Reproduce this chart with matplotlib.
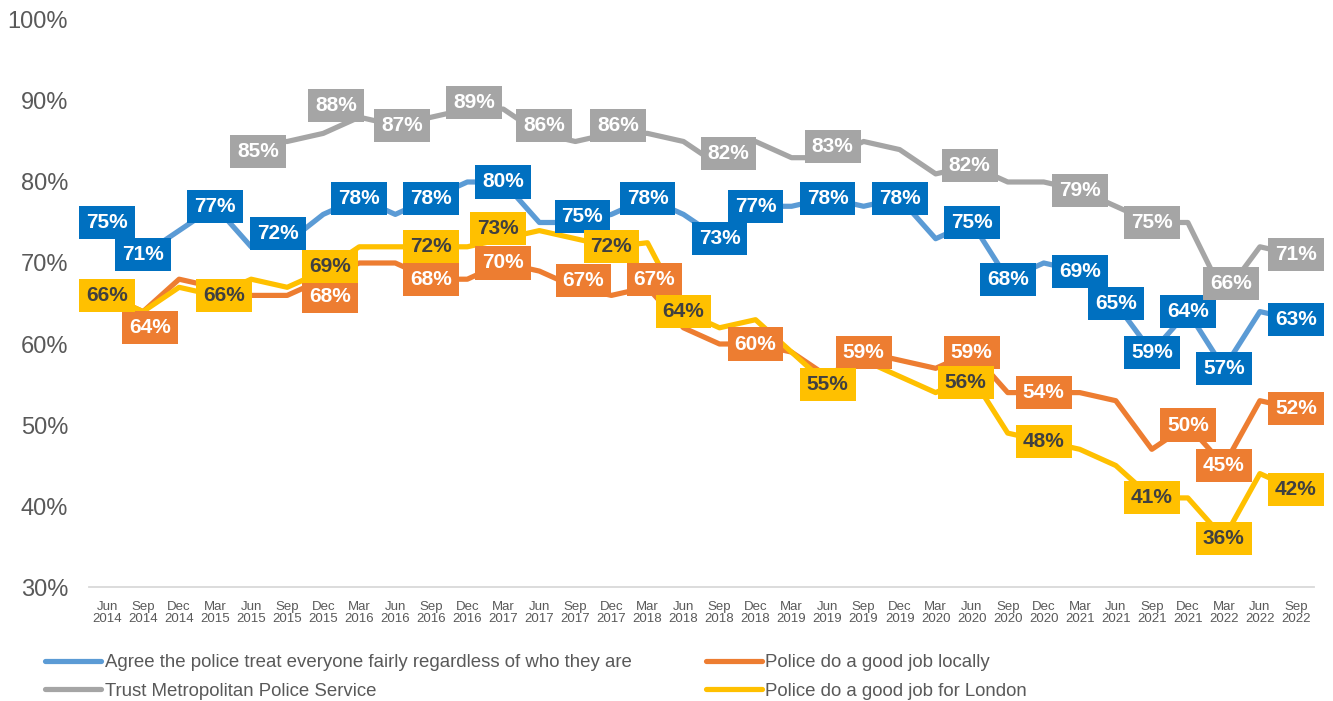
import numpy as np
import matplotlib.pyplot as plt

plt.rcParams['font.family'] = ['Liberation Sans', 'DejaVu Sans']

nan = np.nan

quarters = ["Jun\n2014", "Sep\n2014", "Dec\n2014",
            "Mar\n2015", "Jun\n2015", "Sep\n2015", "Dec\n2015",
            "Mar\n2016", "Jun\n2016", "Sep\n2016", "Dec\n2016",
            "Mar\n2017", "Jun\n2017", "Sep\n2017", "Dec\n2017",
            "Mar\n2018", "Jun\n2018", "Sep\n2018", "Dec\n2018",
            "Mar\n2019", "Jun\n2019", "Sep\n2019", "Dec\n2019",
            "Mar\n2020", "Jun\n2020", "Sep\n2020", "Dec\n2020",
            "Mar\n2021", "Jun\n2021", "Sep\n2021", "Dec\n2021",
            "Mar\n2022", "Jun\n2022", "Sep\n2022"]

fair = [75, 71, 74, 77, 72, 72.5, 76, 78, 76, 78, 80, 80, 75, 75, 76, 78, 76,
        73, 77, 77, 78, 77, 78, 73, 75, 68, 70, 69, 65, 59, 64, 57, 64, 63]
trust = [nan, nan, nan, nan, 85, 85, 86, 88, 87, 88, 89, 89, 86, 85, 86, 86, 85,
         82, 85, 83, 83, 85, 84, 81, 82, 80, 80, 79, 77, 75, 75, 66, 72, 71]
local = [66, 64, 68, 67, 66, 66, 68, 70, 70, 68, 68, 70, 69, 67, 66, 67, 62,
         60, 60, 59, 56, 59, 58, 57, 59, 54, 54, 54, 53, 47, 50, 45, 53, 52]
london = [66, 64, 67, 66, 68, 67, 69, 72, 72, 72, 72, 73, 74, 73, 72, 72.5, 64,
          62, 63, 59, 55, 58, 56, 54, 56, 49, 48, 47, 45, 41, 41, 36, 44, 42]

# which points carry a data label
fair_lab = [0, 1, 3, 4, 7, 9, 11, 13, 15, 17, 18, 20, 22, 24, 25, 27, 28, 29, 30, 31, 33]
trust_lab = [4, 7, 8, 10, 12, 14, 17, 20, 24, 27, 29, 31, 33]
local_lab = [1, 6, 9, 11, 13, 15, 18, 21, 24, 26, 30, 31, 33]
london_lab = [0, 3, 6, 9, 11, 14, 16, 20, 24, 26, 29, 31, 33]

names = ["Agree the police treat everyone fairly regardless of who they are",
         "Police do a good job locally",
         "Trust Metropolitan Police Service",
         "Police do a good job for London"]

# label nudges in pixels (right, down) where Excel moved them off the point
fair_nudge = {4: (27, -13), 13: (7, -6)}
trust_nudge = {4: (7, 10), 7: (-23, -12), 8: (7, 0), 10: (7, -7), 12: (5, -8),
               14: (7, -8), 17: (9, -12), 20: (5, -11), 24: (-2, 0), 31: (7, -12)}
local_nudge = {1: (7, 16), 6: (7, 17), 13: (8, -7), 15: (7, -8)}
london_nudge = {3: (9, 0), 6: (7, -5), 11: (-5, -10), 24: (-6, 6)}

series = [
    (fair, fair_lab, fair_nudge, "#5B9BD5", "#0070C0", "white"),
    (local, local_lab, local_nudge, "#ED7D31", "#ED7D31", "white"),
    (trust, trust_lab, trust_nudge, "#A5A5A5", "#A5A5A5", "white"),
    (london, london_lab, london_nudge, "#FFC000", "#FFC000", "#404040"),
]

fig = plt.figure(figsize=(13.33, 7.01), dpi=100)
ax = fig.add_axes([0.0668, 0.1626, 0.9189, 0.8089])

x = np.arange(len(quarters))
handles = []
for k, (vals, labs, nudge, lc, bc, tc) in enumerate(series):
    ln, = ax.plot(x, vals, color=lc, lw=3.75, solid_joinstyle='round',
                  solid_capstyle='round', zorder=2 + k, label=names[k])
    handles.append(ln)

for k, (vals, labs, nudge, lc, bc, tc) in enumerate(series):
    for i in labs:
        dx, dy = nudge.get(i, (0, 0))
        ax.annotate(f"{vals[i]:.0f}%", (x[i], vals[i]), xytext=(dx, -dy),
                    textcoords='offset pixels', ha='center', va='center',
                    fontsize=15, fontweight='bold', color=tc, zorder=10 + k,
                    bbox=dict(boxstyle='square,pad=0.34', fc=bc, ec='none'))

ax.set_xlim(-0.5, len(quarters) - 0.5)
ax.set_ylim(30, 100)
ax.set_xticks(x)
ax.set_xticklabels(quarters, fontsize=9.5, color="#595959", linespacing=1.05)
yt = np.arange(30, 101, 10)
ax.set_yticks(yt)
ax.set_yticklabels([f"{v}%" for v in yt], fontsize=17, color="#595959")
ax.tick_params(axis='both', length=0)
ax.tick_params(axis='y', pad=15)
ax.tick_params(axis='x', pad=10)
for s in ['top', 'right', 'left']:
    ax.spines[s].set_visible(False)
ax.spines['bottom'].set_color("#D9D9D9")
ax.spines['bottom'].set_linewidth(1.3)

order = [0, 2, 1, 3]
leg = fig.legend([handles[j] for j in order], [names[j] for j in order],
                 ncol=2, loc='upper left', bbox_to_anchor=(0.0338, 0.0665),
                 frameon=False, fontsize=13.45, handlelength=3.0, handletextpad=0.2,
                 columnspacing=3.96, labelspacing=0.61, borderpad=0, borderaxespad=0)
for t in leg.get_texts():
    t.set_color("#595959")

fig.savefig("out.png", dpi=100)
